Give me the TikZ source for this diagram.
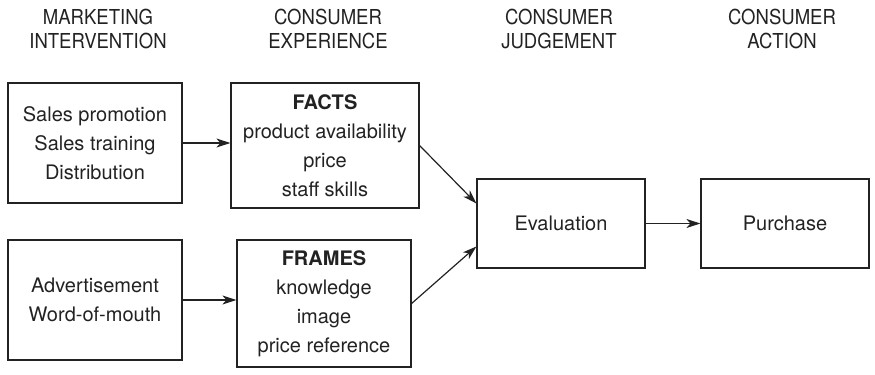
\documentclass[tikz,border=0pt]{standalone}
\usepackage{fontspec}
\setmainfont{TeX Gyre Heros}
\newfontfamily\hdrfont[FakeStretch=0.9]{TeX Gyre Heros}
\usetikzlibrary{arrows.meta}
\definecolor{ink}{HTML}{222222}
\begin{document}
\begin{tikzpicture}[x=0.5pt,y=-0.5pt,
  box/.style={draw=ink, line width=0.6pt, align=center, inner sep=0pt,
    font=\fontsize{10pt}{14.5pt}\selectfont, text=ink},
  hdr/.style={align=center, inner sep=0pt, text=ink,
    font=\hdrfont\fontsize{10.3pt}{11.6pt}\selectfont},
  conn/.style={draw=ink, line width=0.6pt, -{Stealth[length=7pt,width=4.5pt,inset=2pt]}}]
\useasboundingbox (0,0) rectangle (875,375);
% headers
\node[hdr] (h1) at (98,29) {MARKETING\\INTERVENTION};
\node[hdr] (h2) at (328,29) {CONSUMER\\EXPERIENCE};
\node[hdr] (h3) at (559,29) {CONSUMER\\JUDGEMENT};
\node[hdr] (h4) at (782,29) {CONSUMER\\ACTION};
% boxes
\node[box, minimum width=87pt, minimum height=60pt] (mi1) at (95,143)
  {Sales promotion\\Sales training\\Distribution};
\node[box, minimum width=94pt, minimum height=62.5pt] (facts) at (325,145.5)
  {\textbf{FACTS}\\product availability\\price\\staff skills};
\node[box, minimum width=87pt, minimum height=60pt] (mi2) at (95,300)
  {Advertisement\\Word-of-mouth};
\node[box, minimum width=87pt, minimum height=63.5pt] (frames) at (324,303.5)
  {\textbf{FRAMES}\\knowledge\\image\\price reference};
\node[box, minimum width=84pt, minimum height=44.5pt] (eval) at (561,223.5) {Evaluation};
\node[box, minimum width=84pt, minimum height=44.5pt] (purch) at (785,223.5) {Purchase};
% connectors
\draw[conn] (mi1.east) -- (facts.west |- mi1.east);
\draw[conn] (mi2.east) -- (frames.west |- mi2.east);
\draw[conn] (facts.east) -- ([yshift=10pt]eval.west);
\draw[conn] (frames.east) -- ([yshift=-11.5pt]eval.west);
\draw[conn] (eval.east) -- (purch.west);
\end{tikzpicture}
\end{document}
